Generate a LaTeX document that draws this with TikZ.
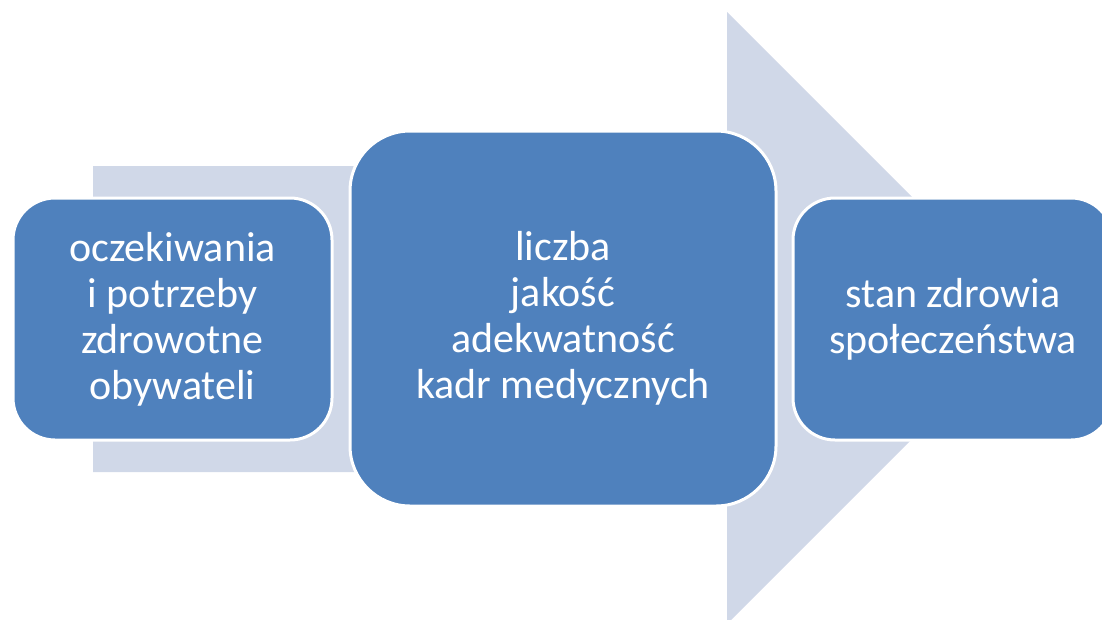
\documentclass[tikz,border=0pt]{standalone}
\usepackage{fontspec}
\setmainfont{Carlito}
\definecolor{boxblue}{HTML}{4F81BD}
\definecolor{arrowgray}{HTML}{D0D8E8}
\begin{document}
\begin{tikzpicture}[x=1pt,y=-1pt,
  stagebox/.style={draw=white,line width=3pt,fill=boxblue,text=white,align=center,
    font=\fontsize{42}{46}\selectfont,inner sep=0pt}]
\useasboundingbox (0,0) rectangle (1102,619);
\clip (0,0) rectangle (1102,619);
% background arrow
\fill[arrowgray] (93,166) -- (727,166) -- (727,12) -- (1033,318) -- (727,624) -- (727,472) -- (93,472) -- cycle;
% boxes
\node[stagebox,rounded corners=42pt,minimum width=319pt,minimum height=242pt] (a) at (172.5,319)
  {oczekiwania\\i potrzeby\\zdrowotne\\obywateli};
\node[stagebox,rounded corners=60pt,minimum width=426pt,minimum height=375pt] (b) at (563,318.5)
  {liczba\\jakość\\adekwatność\\kadr medycznych};
\node[stagebox,rounded corners=42pt,minimum width=320pt,minimum height=242pt] (c) at (953,319)
  {stan zdrowia\\społeczeństwa};
\end{tikzpicture}
\end{document}
